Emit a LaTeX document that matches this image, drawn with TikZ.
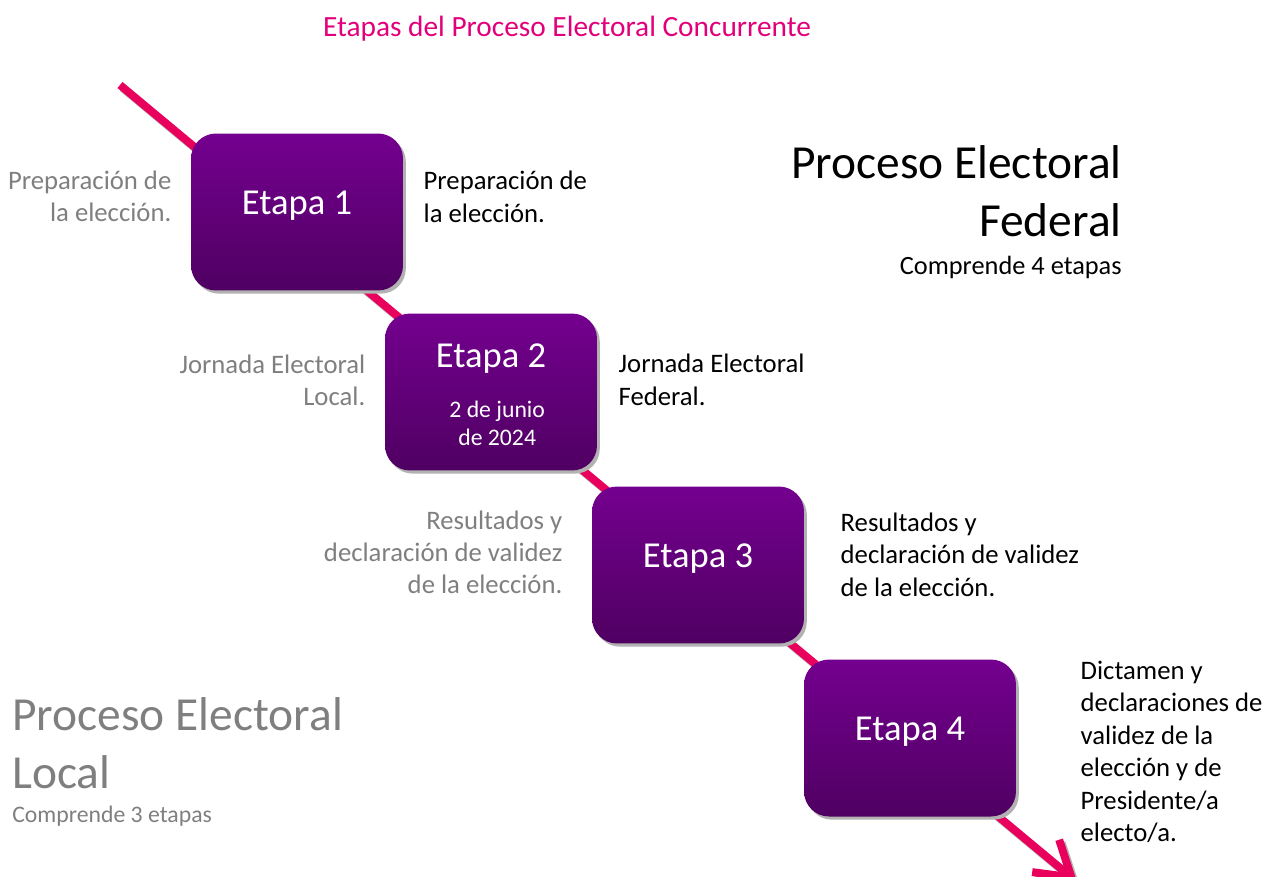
\documentclass[tikz,border=0pt]{standalone}
\usepackage{fontspec}
\setmainfont{Carlito}
\usetikzlibrary{positioning,shadows,arrows.meta}
\definecolor{ineRosa}{HTML}{E2007A}
\definecolor{lineaRoja}{HTML}{E8005C}
\definecolor{etapaArriba}{HTML}{74008F}
\definecolor{etapaAbajo}{HTML}{4F0062}
\definecolor{textoGris}{HTML}{7F7F7F}

\begin{document}
\begin{tikzpicture}[x=0.02cm, y=-0.02cm,
          etapa/.style={rounded corners=5mm, minimum height=31.4mm, minimum width=42.4mm,
            top color=etapaArriba, bottom color=etapaAbajo, text=white,
            font=\fontsize{20.8}{24}\selectfont, text depth=11pt,
            general shadow={fill=black!30, shadow xshift=1.6pt, shadow yshift=-1.8pt}},
          fecha/.style={align=center, text=white, inner sep=0pt, font=\fontsize{13.5}{16}\selectfont},
          federal/.style={align=left, inner sep=0pt, font=\fontsize{15.2}{18.5}\selectfont},
          local/.style={align=right, inner sep=0pt, text=textoGris, font=\fontsize{15.2}{18.2}\selectfont},
          proceso/.style={inner sep=0pt, font=\fontsize{27}{33}\selectfont},
          linea/.style={line width=4.5pt, draw=lineaRoja, -{Straight Barb[length=19pt, width=24pt]}},
          ]

          \useasboundingbox (0,0) rectangle (1263,876);

          \node[text=ineRosa, font=\fontsize{16.7}{20}\selectfont] (titulo) at (567,29) {Etapas del Proceso Electoral Concurrente};

          % linea de tiempo
          \coordinate (inicio) at (120,85);
          \coordinate (fin) at (1077,882);
          \draw[linea, draw=black!30] ([shift={(2.5,3)}]inicio) -- ([shift={(2.5,3)}]fin);
          \draw[linea] (inicio) -- (fin);

          \node[etapa] (e1) at (297,212) {Etapa 1};
          \node[etapa, text depth=41pt] (e2) at (491,392) {Etapa 2};
          \node[fecha] (f2) at ([xshift=3.5pt, yshift=-18pt]e2.center) {2 de junio\\de 2024};
          \node[etapa] (e3) at (698,565) {Etapa 3};
          \node[etapa] (e4) at (910,738) {Etapa 4};

          \node[local, left=3.8mm of e1, yshift=3.2mm] (l1) {Preparación de\\la elección.};
          \node[federal, right=4mm of e1, yshift=3mm] (d1) {Preparación de\\la elección.};
          \node[local, left=3.8mm of e2, yshift=2.4mm] (l2) {Jornada Electoral\\Local.};
          \node[federal, right=4.2mm of e2, yshift=2.4mm] (d2) {Jornada Electoral\\Federal.};
          \node[local, left=5.8mm of e3, yshift=2.6mm] (l3) {Resultados y\\declaración de validez\\de la elección.};
          \node[federal, right=7.2mm of e3, yshift=2.1mm] (d3) {Resultados y\\declaración de validez\\de la elección.};
          \node[federal, right=12.8mm of e4, yshift=-2.8mm] (d4) {Dictamen y\\declaraciones de\\validez de la\\elección y de\\Presidente/a\\electo/a.};

          \node[proceso, align=right, anchor=east] (pef) at (1122,191) {Proceso Electoral\\Federal};
          \node[anchor=east, inner sep=0pt, font=\fontsize{15}{18}\selectfont] (c4) at (1122,267) {Comprende 4 etapas};
          \node[proceso, align=left, anchor=west, text=textoGris] (pel) at (12,743) {Proceso Electoral\\Local};
          \node[anchor=west, inner sep=0pt, text=textoGris, font=\fontsize{13.5}{16}\selectfont] (c3) at (12,816) {Comprende 3 etapas};

        \end{tikzpicture}
\end{document}
